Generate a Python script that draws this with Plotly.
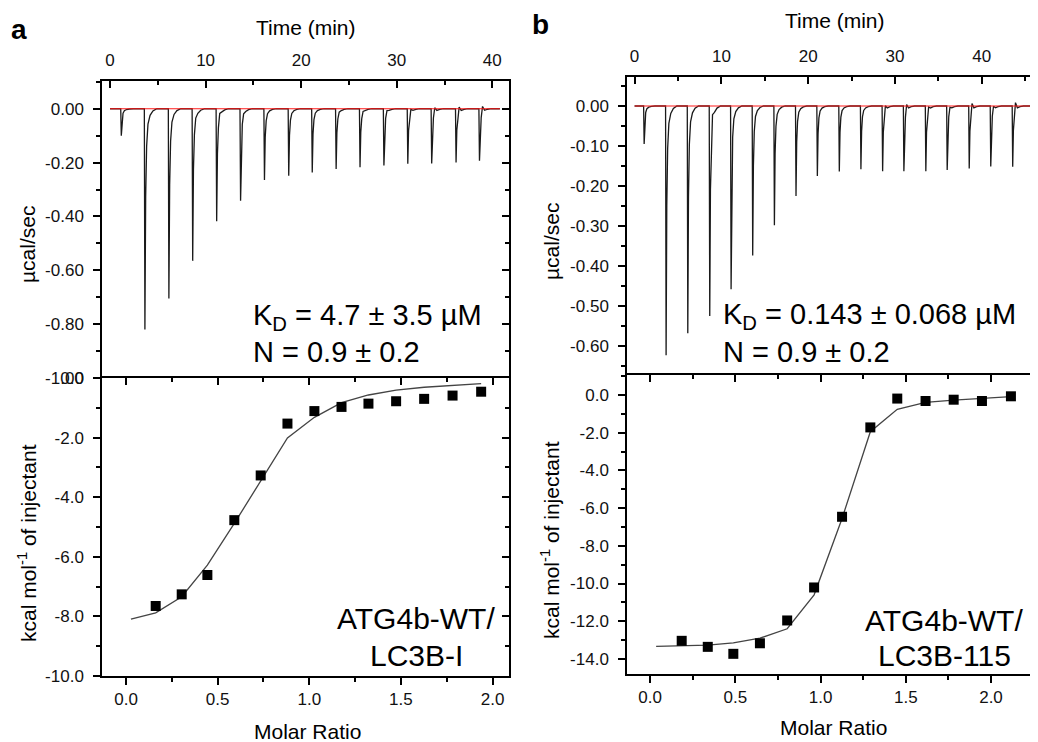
import plotly.graph_objects as go

# ---- panel a: ATG4b-WT / LC3B-I ----
inj_time_a = [1.12, 3.59, 6.10, 8.59, 11.10, 13.60, 16.10, 18.64, 21.10, 23.60, 26.10, 28.60, 31.10, 33.60, 36.15, 38.60]
peak_a = [-0.100, -0.820, -0.705, -0.565, -0.418, -0.342, -0.265, -0.249, -0.237, -0.224, -0.217, -0.211, -0.204, -0.203, -0.200, -0.193]
blip_a = [0, 0, 0, 0.005, 0.012, 0.005, 0, 0, 0, 0.003, 0.005, 0.008, 0.012, 0.018, 0.020, 0.022]
end_time_a = 40.8

molar_a = [0.162, 0.304, 0.444, 0.591, 0.735, 0.881, 1.028, 1.176, 1.323, 1.474, 1.627, 1.782, 1.938]
heat_a = [-7.65, -7.26, -6.61, -4.77, -3.27, -1.53, -1.11, -0.97, -0.86, -0.78, -0.70, -0.59, -0.46]
fit_x_a = [0.027, 0.162, 0.304, 0.444, 0.591, 0.735, 0.881, 1.028, 1.176, 1.323, 1.474, 1.627, 1.782, 1.938]
fit_y_a = [-8.09, -7.88, -7.34, -6.28, -4.88, -3.45, -2.01, -1.32, -0.83, -0.57, -0.41, -0.31, -0.24, -0.19]

# ---- panel b: ATG4b-WT / LC3B-115 ----
inj_time_b = [1.04, 3.57, 6.07, 8.60, 11.06, 13.55, 16.05, 18.54, 21.00, 23.53, 26.02, 28.52, 30.97, 33.50, 35.96, 38.50, 40.98, 43.51]
peak_b = [-0.095, -0.623, -0.568, -0.525, -0.458, -0.374, -0.298, -0.225, -0.175, -0.164, -0.158, -0.163, -0.163, -0.163, -0.160, -0.156, -0.151, -0.152]
blip_b = [0, 0, 0, 0.015, 0, 0, 0, 0, 0, 0, 0, 0.012, 0.015, 0.009, 0.008, 0.017, 0.010, 0.019]
end_time_b = 45.9

molar_b = [0.185, 0.338, 0.488, 0.644, 0.804, 0.962, 1.126, 1.292, 1.450, 1.616, 1.781, 1.947, 2.117]
heat_b = [-13.04, -13.36, -13.73, -13.17, -11.96, -10.21, -6.46, -1.72, -0.19, -0.32, -0.25, -0.32, -0.07]
fit_x_b = [0.035, 0.185, 0.338, 0.488, 0.644, 0.804, 0.962, 1.126, 1.292, 1.450, 1.616, 1.781, 1.947, 2.117]
fit_y_b = [-13.33, -13.31, -13.27, -13.15, -12.90, -12.40, -10.60, -6.55, -1.95, -0.76, -0.39, -0.27, -0.18, -0.09]

# shape of one injection spike (fraction of peak depth vs minutes after injection)
tail_dt = [0, 0.06, 0.14, 0.24, 0.38, 0.60, 0.90, 1.30]
tail_frac = [0, 1.0, 0.40, 0.17, 0.07, 0.03, 0.01, 0]

# tick labels
time_ticks = [0, 10, 20, 30, 40]
time_text = ["0", "10", "20", "30", "40"]
molar_ticks = [0, 0.5, 1.0, 1.5, 2.0]
molar_text = ["0.0", "0.5", "1.0", "1.5", "2.0"]
ya_top_ticks = [0, -0.2, -0.4, -0.6, -0.8, -1.0]
ya_top_text = ["0.00", "-0.20", "-0.40", "-0.60", "-0.80", "-1.00"]
ya_bot_ticks = [0, -2, -4, -6, -8, -10]
ya_bot_text = ["0.0", "-2.0", "-4.0", "-6.0", "-8.0", "-10.0"]
yb_top_ticks = [0, -0.1, -0.2, -0.3, -0.4, -0.5, -0.6]
yb_top_text = ["0.00", "-0.10", "-0.20", "-0.30", "-0.40", "-0.50", "-0.60"]
yb_bot_ticks = [0, -2, -4, -6, -8, -10, -12, -14]
yb_bot_text = ["0.0", "-2.0", "-4.0", "-6.0", "-8.0", "-10.0", "-12.0", "-14.0"]

FONT = "Liberation Sans, Arial, sans-serif"

# the page body has an 8px margin, so the figure is drawn 8px in from the corner
OFF = 8
W, H = 1038 - OFF, 742 - OFF


def px(x):
    return (x - OFF) / W


def py(y):
    return 1 - (y - OFF) / H


def thermogram(times, depths, blips, t_end):
    t, y = [0.0], [0.0]
    for t0, d, b in zip(times, depths, blips):
        for k, (dt, f) in enumerate(zip(tail_dt, tail_frac)):
            t.append(t0 + dt)
            y.append(d * f + (b if k == 4 else 0))
    t.append(t_end)
    y.append(0.0)
    return t, y


fig = go.Figure()

for tag, times, depths, blips, t_end, xs, ys, fx, fy in [
    ("a", inj_time_a, peak_a, blip_a, end_time_a, molar_a, heat_a, fit_x_a, fit_y_a),
    ("b", inj_time_b, peak_b, blip_b, end_time_b, molar_b, heat_b, fit_x_b, fit_y_b),
]:
    xt, yt, xm, ym = ("x", "y", "x2", "y2") if tag == "a" else ("x3", "y3", "x4", "y4")
    tt, tv = thermogram(times, depths, blips, t_end)
    fig.add_trace(go.Scatter(x=tt, y=tv, mode="lines", line=dict(color="#1a1a1a", width=1.3),
                             xaxis=xt, yaxis=yt, showlegend=False))
    fig.add_trace(go.Scatter(x=[0, t_end], y=[0, 0], mode="lines", line=dict(color="#ff1a1a", width=1.1),
                             xaxis=xt, yaxis=yt, showlegend=False))
    fig.add_trace(go.Scatter(x=fx, y=fy, mode="lines", line=dict(color="#444", width=1.3),
                             xaxis=xm, yaxis=ym, showlegend=False))
    fig.add_trace(go.Scatter(x=xs, y=ys, mode="markers", marker=dict(symbol="square", size=10, color="black"),
                             xaxis=xm, yaxis=ym, showlegend=False))

# empty traces so the mirrored (inside-tick) axes get drawn
for xa, ya in [("x", "y5"), ("x2", "y6"), ("x5", "y2"), ("x3", "y7"), ("x4", "y8"), ("x6", "y4")]:
    fig.add_trace(go.Scatter(x=[None], y=[None], xaxis=xa, yaxis=ya, showlegend=False, hoverinfo="skip"))


def axis(rng, dom, vals, text, minor_dt, **kw):
    d = dict(range=rng, domain=dom, tickmode="array", tickvals=vals, ticktext=text,
             showline=True, linecolor="black", linewidth=1.5, mirror=True, automargin=False,
             showgrid=False, zeroline=False, ticks="outside", ticklen=7, tickwidth=1.5,
             tickcolor="black", tickfont=dict(family=FONT, size=17, color="#111"),
             minor=dict(ticks="outside", ticklen=4, tickwidth=1.5, tickcolor="black",
                        tickmode="linear", tick0=0, dtick=minor_dt, showgrid=False),
             fixedrange=True)
    d.update(kw)
    return d


def inner(ax, overl, side, anchor):
    d = dict(ax)
    d.update(overlaying=overl, side=side, anchor=anchor, ticks="inside", showticklabels=False,
             showline=False, mirror=False, minor=dict(ax["minor"], ticks="inside"))
    d.pop("domain")
    return d


xa_dom = [px(102), px(509)]
xb_dom = [px(627), min(px(1037), 1.0)]
time_minor = dict(ticks="inside", ticklen=4, tickwidth=1.5, tickcolor="black",
                  tickmode="linear", tick0=0, dtick=5, showgrid=False)

# time axes: no mirror line, the heat plot below draws the shared border
xaxis = axis([-0.84, 41.75], xa_dom, time_ticks, time_text, 5, anchor="y", side="top",
             ticks="inside", ticklabelstandoff=6, minor=time_minor, mirror=False)
yaxis = axis([-1.0, 0.103], [py(378), py(81)], ya_top_ticks, ya_top_text, 0.1, anchor="x",
             ticklabelstandoff=6)
xaxis2 = axis([-0.131, 2.09], xa_dom, molar_ticks, molar_text, 0.25, anchor="y2")
yaxis2 = axis([-10.0, 0.0], [py(676), py(378)], ya_bot_ticks, ya_bot_text, 1.0, anchor="x2",
              ticklabelstandoff=6)

xaxis3 = axis([-0.875, 46.37], xb_dom, time_ticks, time_text, 5, anchor="y3", side="top",
              ticks="inside", ticklabelstandoff=6, minor=time_minor, mirror=False)
yaxis3 = axis([-0.6725, 0.0725], [py(375), py(77)], yb_top_ticks, yb_top_text, 0.05, anchor="x3",
              ticklabelstandoff=6)
xaxis4 = axis([-0.136, 2.27], xb_dom, molar_ticks, molar_text, 0.25, anchor="y4")
yaxis4 = axis([-14.8, 1.06], [py(674), py(375)], yb_bot_ticks, yb_bot_text, 1.0, anchor="x4",
              ticklabelstandoff=6)

fig.update_layout(
    width=W, height=H, margin=dict(l=0, r=0, t=0, b=0, autoexpand=False),
    paper_bgcolor="white", plot_bgcolor="white",
    font=dict(family=FONT, color="black"),
    xaxis=xaxis, yaxis=yaxis, xaxis2=xaxis2, yaxis2=yaxis2,
    xaxis3=xaxis3, yaxis3=yaxis3, xaxis4=xaxis4, yaxis4=yaxis4,
    yaxis5=inner(yaxis, "y", "right", "x"), yaxis6=inner(yaxis2, "y2", "right", "x2"),
    xaxis5=inner(xaxis2, "x2", "top", "y2"),
    yaxis7=inner(yaxis3, "y3", "right", "x3"), yaxis8=inner(yaxis4, "y4", "right", "x4"),
    xaxis6=inner(xaxis4, "x4", "top", "y4"),
)


def note(text, x, y, size, anchor="center", **kw):
    fig.add_annotation(text=text, x=px(x), y=py(y), xref="paper", yref="paper",
                       xanchor=anchor, yanchor="middle", showarrow=False,
                       font=dict(family=FONT, size=size, color="black"), **kw)


note("<b>a</b>", 19, 29, 28)
note("<b>b</b>", 540, 25, 28)
note("Time (min)", 306, 28, 21)
note("Time (min)", 835, 20, 21)
note("µcal/sec", 28, 245, 21, textangle=-90)
note("µcal/sec", 552, 242, 21, textangle=-90)
note("kcal mol<sup>-1</sup> of injectant", 27, 543, 21, textangle=-90)
note("kcal mol<sup>-1</sup> of injectant", 550, 540, 21, textangle=-90)
note("Molar Ratio", 307, 731, 21)
note("Molar Ratio", 833, 727, 21)
note("K<sub>D</sub> = 4.7 ± 3.5 µM", 251, 317, 29, anchor="left")
note("N = 0.9 ± 0.2", 251, 352, 29, anchor="left")
note("K<sub>D</sub> = 0.143 ± 0.068 µM", 721, 316, 29, anchor="left")
note("N = 0.9 ± 0.2", 721, 352, 29, anchor="left")
note("ATG4b-WT/", 416, 618, 30)
note("LC3B-I", 416, 655, 30)
note("ATG4b-WT/", 944, 620, 30)
note("LC3B-115", 944, 655, 30)

fig.write_html("out.html")
